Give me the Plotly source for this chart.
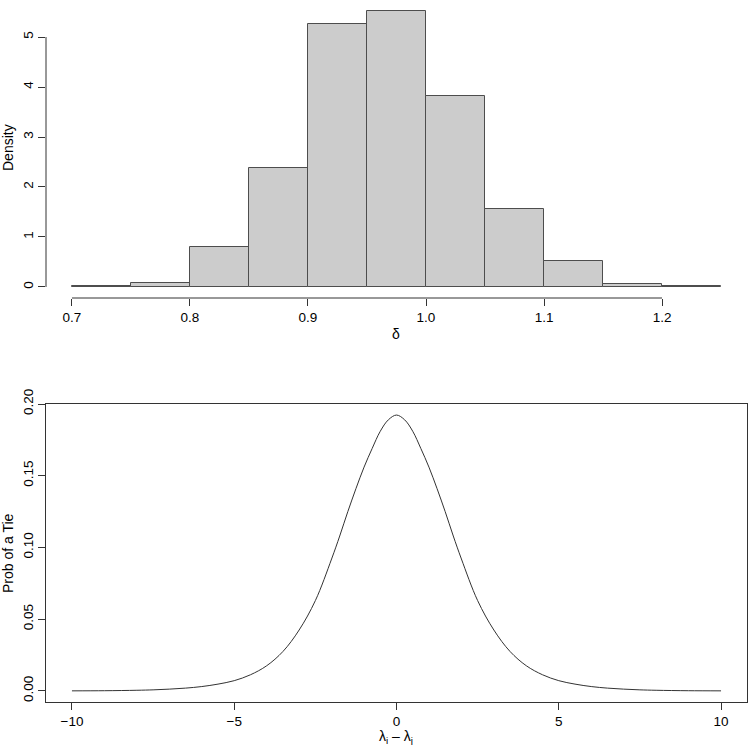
import plotly.graph_objects as go

# ---- Top panel: histogram of delta ----
bin_edges = [0.70, 0.75, 0.80, 0.85, 0.90, 0.95, 1.00, 1.05, 1.10, 1.15, 1.20, 1.25]
densities = [0.01, 0.08, 0.80, 2.38, 5.26, 5.52, 3.82, 1.56, 0.52, 0.05, 0.01]
hist_xticks = [0.7, 0.8, 0.9, 1.0, 1.1, 1.2]
hist_xticklabels = ["0.7", "0.8", "0.9", "1.0", "1.1", "1.2"]
hist_yticks = [0, 1, 2, 3, 4, 5]

# ---- Bottom panel: probability of a tie ----
diff = [-10, -9, -8, -7.5, -7, -6.5, -6, -5.5, -5, -4.5, -4, -3.5, -3, -2.5, -2, -1.75, -1.5,
        -1.25, -1, -0.75, -0.5, -0.25, 0, 0.25, 0.5, 0.75, 1, 1.25, 1.5, 1.75, 2, 2.5, 3, 3.5,
        4, 4.5, 5, 5.5, 6, 6.5, 7, 7.5, 8, 9, 10]
prob_tie = [0.0001, 0.0002, 0.0005, 0.0008, 0.0013, 0.0020, 0.0031, 0.0048, 0.0072, 0.0113,
            0.0176, 0.0275, 0.0425, 0.0630, 0.0920, 0.1080, 0.1250,
            0.1410, 0.1560, 0.1690, 0.1810, 0.1890, 0.1923, 0.1890, 0.1810, 0.1690,
            0.1560, 0.1410, 0.1250, 0.1080, 0.0920, 0.0630, 0.0425, 0.0275,
            0.0176, 0.0113, 0.0072, 0.0048, 0.0031, 0.0020, 0.0013, 0.0008, 0.0005, 0.0002, 0.0001]
tie_xticks = [-10, -5, 0, 5, 10]
tie_xticklabels = ["\u221210", "\u22125", "0", "5", "10"]
tie_yticks = [0.00, 0.05, 0.10, 0.15, 0.20]

W, H = 750, 745
FONT = "Liberation Sans, Arial, Helvetica, sans-serif"
AXC = "#333333"

xdom = [46 / W, 747 / W]
top_dom = [1 - 298 / H, 1.0]
bot_dom = [1 - 702 / H, 1 - 404 / H]

centers = [(bin_edges[i] + bin_edges[i + 1]) / 2 for i in range(len(densities))]
widths = [bin_edges[i + 1] - bin_edges[i] for i in range(len(densities))]

fig = go.Figure()
fig.add_trace(go.Bar(
    x=centers, y=densities, width=widths,
    marker=dict(color="#cccccc", line=dict(color="#4d4d4d", width=1)),
    xaxis="x", yaxis="y", showlegend=False, hoverinfo="x+y",
))
fig.add_trace(go.Scatter(
    x=diff, y=prob_tie, mode="lines",
    line=dict(color="#333333", width=1, shape="spline", smoothing=1.0),
    xaxis="x2", yaxis="y2", showlegend=False,
))

tickfont = dict(family=FONT, size=13.5, color="#000000")
common = dict(ticks="outside", ticklen=7, tickwidth=1, tickcolor=AXC, showgrid=False,
              zeroline=False, tickfont=tickfont, automargin=False)
titlefont = dict(family=FONT, size=14, color="#000000")

fig.update_layout(
    width=W, height=H,
    margin=dict(l=0, r=0, t=0, b=0),
    paper_bgcolor="white", plot_bgcolor="white",
    bargap=0,
    xaxis=dict(domain=xdom, anchor="y", range=[0.678, 1.272], tickvals=hist_xticks,
               ticktext=hist_xticklabels, showline=False, **common),
    yaxis=dict(domain=top_dom, anchor="x", range=[-0.221, 5.741], tickvals=hist_yticks,
               tickangle=-90, showline=False, **common),
    xaxis2=dict(domain=xdom, anchor="y2", range=[-10.8, 10.8], tickvals=tie_xticks,
                ticktext=tie_xticklabels,
                showline=True, linecolor=AXC, linewidth=1, mirror=True, **common),
    yaxis2=dict(domain=bot_dom, anchor="x2", range=[-0.00767, 0.2], tickvals=tie_yticks,
                tickformat=".2f", tickangle=-90,
                showline=True, linecolor=AXC, linewidth=1, mirror=True, **common),
    shapes=[
        # R-style detached axis lines for histogram
        dict(type="line", xref="x", yref="paper", x0=hist_xticks[0], x1=hist_xticks[-1],
             y0=top_dom[0], y1=top_dom[0], line=dict(color=AXC, width=1)),
        dict(type="line", xref="paper", yref="y", x0=xdom[0], x1=xdom[0],
             y0=hist_yticks[0], y1=hist_yticks[-1], line=dict(color=AXC, width=1)),
    ],
    annotations=[
        dict(text="\u03b4", xref="paper", yref="paper", x=(xdom[0] + xdom[1]) / 2,
             y=1 - 334 / H, xanchor="center", yanchor="middle", showarrow=False, font=titlefont),
        dict(text="Density", xref="paper", yref="paper", x=8 / W, y=1 - 148 / H,
             xanchor="center", yanchor="middle", textangle=-90, showarrow=False, font=titlefont),
        dict(text="\u03bb<sub>i</sub> \u2013 \u03bb<sub>j</sub>", xref="paper", yref="paper",
             x=(xdom[0] + xdom[1]) / 2, y=1 - 737 / H, xanchor="center", yanchor="middle",
             showarrow=False, font=titlefont),
        dict(text="Prob of a Tie", xref="paper", yref="paper", x=8 / W, y=1 - 553 / H,
             xanchor="center", yanchor="middle", textangle=-90, showarrow=False, font=titlefont),
    ],
)

fig.write_html("out.html",
               post_script="document.body.style.margin='0';document.body.style.overflow='hidden';")
